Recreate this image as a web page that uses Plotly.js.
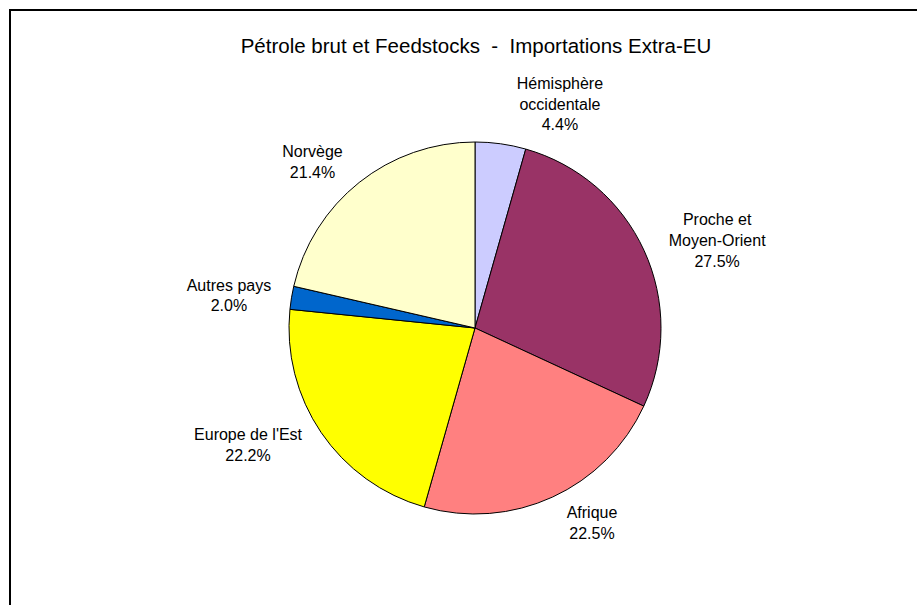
<!DOCTYPE html>
<html>
<head>
<meta charset="utf-8">
<script src="https://cdn.plot.ly/plotly-3.0.1.min.js"></script>
<style>
  html, body { margin: 0; padding: 0; background: #fff; }
  #chart { width: 917px; height: 605px; }
  #frame { position: absolute; left: 9px; top: 9px; width: 1000px; height: 1000px;
           border-left: 2px solid #000; border-top: 2px solid #000; pointer-events: none; }
</style>
</head>
<body>
<div id="chart"></div>
<div id="frame"></div>
<script>
const categories = ["Hémisphère<br>occidentale", "Proche et<br>Moyen-Orient", "Afrique", "Europe de l'Est", "Autres pays", "Norvège"];
const values = [4.4, 27.5, 22.5, 22.2, 2.0, 21.4];
const colors = ["#CCCCFF", "#993366", "#FF8080", "#FFFF00", "#0066CC", "#FFFFCC"];
const titleText = "Pétrole brut et Feedstocks  -  Importations Extra-EU";

const FONT = "Liberation Sans, Arial, sans-serif";
const plotH = 394;          // plot area height (label ring)
const labelGap = 11;        // distance between pie edge and label ring, px
const inner = labelGap / plotH;

// visible pie (no text)
const pieTrace = {
  type: "pie",
  labels: categories,
  values: values,
  sort: false,
  direction: "clockwise",
  rotation: 0,
  domain: { x: [0, 1], y: [inner, 1 - inner] },
  marker: { colors: colors, line: { color: "#000", width: 1 } },
  textinfo: "none",
  hoverinfo: "none",
  showlegend: false
};

// transparent, slightly larger pie that only carries the outside labels
const labelTrace = {
  type: "pie",
  labels: categories,
  values: values,
  sort: false,
  direction: "clockwise",
  rotation: 0,
  domain: { x: [0, 1], y: [0, 1] },
  marker: { colors: categories.map(() => "rgba(0,0,0,0)"), line: { width: 0 } },
  textposition: "outside",
  texttemplate: "%{label}<br>%{percent:.1%}",
  textfont: { family: FONT, size: 16, color: "#000" },
  automargin: false,
  hoverinfo: "none",
  showlegend: false
};

const layout = {
  width: 917, height: 605,
  margin: { l: 100, r: 67, t: 131, b: 80 },
  paper_bgcolor: "#fff",
  font: { family: FONT, color: "#000" },
  title: { text: titleText, x: 0.519, xanchor: "center", y: 0.925, yanchor: "middle",
           font: { size: 20.5, color: "#000", family: FONT } },
  showlegend: false
};

Plotly.newPlot("chart", [pieTrace, labelTrace], layout, { staticPlot: true });
</script>
</body>
</html>
